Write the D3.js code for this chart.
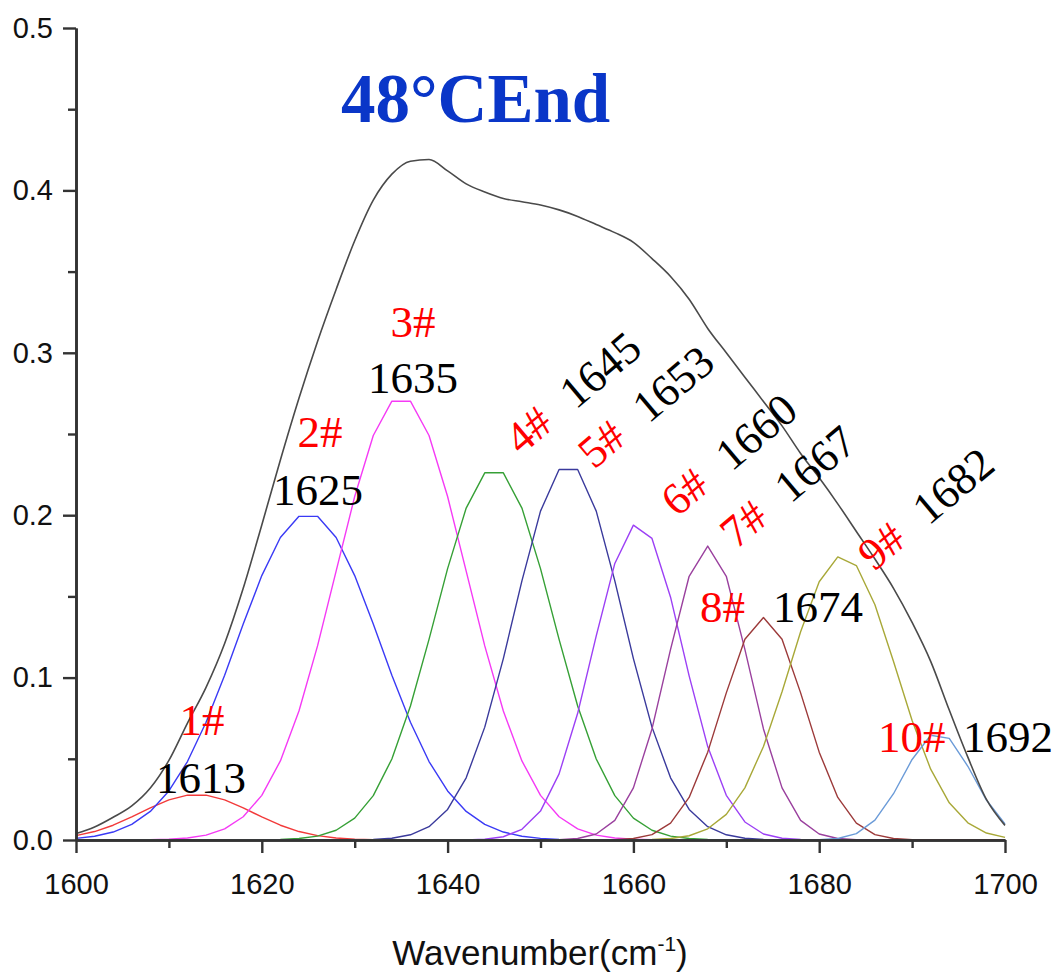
<!DOCTYPE html>
<html><head><meta charset="utf-8">
<script src="https://cdn.jsdelivr.net/npm/d3@7"></script>
<style>body{margin:0;background:#fff}</style>
</head><body><svg id="c" width="1058" height="975"></svg>
<script>
// ---- data ----
const wavenumbers = [1600,1602,1604,1606,1608,1610,1612,1614,1616,1618,1620,1622,1624,1626,1628,1630,1632,1634,1636,1638,1640,1642,1644,1646,1648,1650,1652,1654,1656,1658,1660,1662,1664,1666,1668,1670,1672,1674,1676,1678,1680,1682,1684,1686,1688,1690,1692,1694,1696,1698,1700];
const peak1 = [0.0027,0.0052,0.0091,0.0142,0.0198,0.0247,0.0276,0.0276,0.0247,0.0198,0.0142,0.0091,0.0052,0.0027,0.0012,0.0005,0.0002,0.0001,0,0,0,0,0,0,0,0,0,0,0,0,0,0,0,0,0,0,0,0,0,0,0,0,0,0,0,0,0,0,0,0,0];
const peak2 = [0.0010,0.0023,0.0049,0.0096,0.0176,0.0302,0.0483,0.0725,0.1015,0.1330,0.1628,0.1863,0.1993,0.1993,0.1863,0.1628,0.1330,0.1015,0.0725,0.0483,0.0302,0.0176,0.0096,0.0049,0.0023,0.0010,0.0004,0.0002,0,0,0,0,0,0,0,0,0,0,0,0,0,0,0,0,0,0,0,0,0,0,0];
const peak3 = [0,0,0,0.0001,0.0002,0.0005,0.0012,0.0030,0.0069,0.0143,0.0275,0.0487,0.0794,0.1195,0.1656,0.2115,0.2491,0.2702,0.2702,0.2491,0.2115,0.1656,0.1195,0.0794,0.0487,0.0275,0.0143,0.0069,0.0030,0.0012,0.0005,0.0002,0.0001,0,0,0,0,0,0,0,0,0,0,0,0,0,0,0,0,0,0];
const peak4 = [0,0,0,0,0,0,0,0,0,0,0.0001,0.0003,0.0009,0.0024,0.0060,0.0135,0.0273,0.0499,0.0825,0.1235,0.1671,0.2044,0.2261,0.2261,0.2044,0.1671,0.1235,0.0825,0.0499,0.0273,0.0135,0.0060,0.0024,0.0009,0.0003,0.0001,0,0,0,0,0,0,0,0,0,0,0,0,0,0,0];
const peak5 = [0,0,0,0,0,0,0,0,0,0,0,0,0,0,0,0.0001,0.0003,0.0011,0.0032,0.0082,0.0188,0.0383,0.0695,0.1117,0.1596,0.2025,0.2281,0.2281,0.2025,0.1596,0.1117,0.0695,0.0383,0.0188,0.0082,0.0032,0.0011,0.0003,0.0001,0,0,0,0,0,0,0,0,0,0,0,0];
const peak6 = [0,0,0,0,0,0,0,0,0,0,0,0,0,0,0,0,0,0,0,0,0,0.0001,0.0005,0.0020,0.0066,0.0178,0.0407,0.0780,0.1257,0.1703,0.1939,0.1857,0.1495,0.1011,0.0575,0.0275,0.0111,0.0037,0.0011,0.0003,0.0001,0,0,0,0,0,0,0,0,0,0];
const peak7 = [0,0,0,0,0,0,0,0,0,0,0,0,0,0,0,0,0,0,0,0,0,0,0,0,0,0,0.0002,0.0009,0.0037,0.0121,0.0321,0.0684,0.1174,0.1624,0.1810,0.1624,0.1174,0.0684,0.0321,0.0121,0.0037,0.0009,0.0002,0,0,0,0,0,0,0,0];
const peak8 = [0,0,0,0,0,0,0,0,0,0,0,0,0,0,0,0,0,0,0,0,0,0,0,0,0,0,0,0,0,0.0002,0.0009,0.0033,0.0104,0.0262,0.0541,0.0906,0.1236,0.1370,0.1236,0.0906,0.0541,0.0262,0.0104,0.0033,0.0009,0.0002,0,0,0,0,0];
const peak9 = [0,0,0,0,0,0,0,0,0,0,0,0,0,0,0,0,0,0,0,0,0,0,0,0,0,0,0,0,0,0,0.0001,0.0003,0.0009,0.0026,0.0069,0.0158,0.0321,0.0576,0.0913,0.1282,0.1590,0.1743,0.1690,0.1449,0.1099,0.0736,0.0436,0.0229,0.0106,0.0043,0.0016];
const peak10 = [0,0,0,0,0,0,0,0,0,0,0,0,0,0,0,0,0,0,0,0,0,0,0,0,0,0,0,0,0,0,0,0,0,0,0,0,0,0,0,0,0.0002,0.0009,0.0039,0.0122,0.0285,0.0496,0.0645,0.0626,0.0454,0.0246,0.0099];
const envelope = [0.004,0.008,0.014,0.021,0.032,0.049,0.072,0.094,0.121,0.155,0.194,0.234,0.272,0.307,0.339,0.369,0.394,0.410,0.418,0.419,0.412,0.404,0.399,0.395,0.393,0.391,0.388,0.384,0.379,0.374,0.368,0.358,0.347,0.333,0.315,0.300,0.285,0.270,0.255,0.238,0.223,0.207,0.190,0.173,0.155,0.134,0.110,0.080,0.051,0.025,0.009];
const peakIds = ["1#","2#","3#","4#","5#","6#","7#","8#","9#","10#"];
const peakCenters = ["1613","1625","1635","1645","1653","1660","1667","1674","1682","1692"];
const xTicks = [1600,1620,1640,1660,1680,1700];
const xMinorTicks = [1610,1630,1650,1670,1690];
const yTicks = [0,0.1,0.2,0.3,0.4,0.5];
const yMinorTicks = [0.05,0.15,0.25,0.35,0.45];
const yTickLabels = ["0.0","0.1","0.2","0.3","0.4","0.5"];
const titleText = "48°CEnd";
const xTitleMain = "Wavenumber(cm";
const xTitleSup = "-1";
const xTitleEnd = ")";

// ---- styles / layout ----
const peaks = [peak1,peak2,peak3,peak4,peak5,peak6,peak7,peak8,peak9,peak10];
const peakColors = ["#f23a3a","#3a3af5","#f53af5","#36a036","#3a3a9c","#9c40f5","#9a409e","#9c3a3a","#a8a838","#6b9bd8"];
const envColor = "#4a4a4a";
const labelLayout = [
  {mode:"c", x1:202, y1:735, x2:201, y2:793},
  {mode:"c", x1:320, y1:447, x2:318, y2:505},
  {mode:"c", x1:413, y1:337, x2:413, y2:393},
  {mode:"r", x:521, y:456},
  {mode:"r", x:594, y:470},
  {mode:"r", x:677, y:518},
  {mode:"r", x:736, y:550},
  {mode:"h", x1:700, x2:773, y:622},
  {mode:"r", x:874, y:572},
  {mode:"h", x1:878, x2:963, y:752}
];

const svg = d3.select("#c");
const x = d3.scaleLinear().domain([1600,1700]).range([76,1005]);
const y = d3.scaleLinear().domain([0,0.5]).range([840,28]);

const lineLin = d3.line().x((d,i)=>x(wavenumbers[i])).y(d=>y(d)).curve(d3.curveLinear);
const lineSmooth = d3.line().x((d,i)=>x(wavenumbers[i])).y(d=>y(d)).curve(d3.curveMonotoneX);

const g = svg.append("g");
peaks.forEach((p,k)=>{
  g.append("path").attr("d", lineLin(p)).attr("fill","none")
   .attr("stroke", peakColors[k]).attr("stroke-width",1.4).attr("stroke-linejoin","round");
});
g.append("path").attr("d", lineSmooth(envelope)).attr("fill","none")
 .attr("stroke", envColor).attr("stroke-width",1.6);

// axes
const axFont = "'Liberation Sans', Arial, sans-serif";
const yAx = svg.append("g").attr("transform","translate(76,0)")
  .call(d3.axisLeft(y).tickValues(yTicks).tickFormat((d,i)=>yTickLabels[i]).tickSize(13).tickSizeOuter(0).tickPadding(10));
const yAxMinor = svg.append("g").attr("transform","translate(76,0)")
  .call(d3.axisLeft(y).tickValues(yMinorTicks).tickFormat("").tickSize(8).tickSizeOuter(0));
const xAx = svg.append("g").attr("transform","translate(0,840)")
  .call(d3.axisBottom(x).tickValues(xTicks).tickFormat(d3.format("d")).tickSize(13).tickSizeOuter(0).tickPadding(20));
const xAxMinor = svg.append("g").attr("transform","translate(0,840)")
  .call(d3.axisBottom(x).tickValues(xMinorTicks).tickFormat("").tickSize(8).tickSizeOuter(0));
[yAx,yAxMinor,xAx,xAxMinor].forEach(a=>{
  a.selectAll("path.domain").attr("stroke","#333").attr("stroke-width",2.6);
  a.selectAll(".tick line").attr("stroke","#333").attr("stroke-width",2.4);
  a.selectAll("text").attr("font-family",axFont).attr("font-size",29).attr("fill","#111");
});
xAx.selectAll("text").attr("dy","0.71em");

// axis title
const xt = svg.append("text").attr("x",540).attr("y",965).attr("text-anchor","middle")
  .attr("font-family",axFont).attr("font-size",35).attr("fill","#111");
xt.append("tspan").text(xTitleMain);
xt.append("tspan").attr("font-size",21).attr("dy",-14).text(xTitleSup);
xt.append("tspan").attr("dy",14).text(xTitleEnd);

// title
svg.append("text").attr("x",341).attr("y",122).attr("font-family","'Liberation Serif','Times New Roman',serif")
  .attr("font-weight","bold").attr("font-size",69).attr("fill","#0a36c8").text(titleText);

// peak labels
const serif = "'Liberation Serif','Times New Roman',serif";
const fs = 45;
labelLayout.forEach((L,i)=>{
  if (L.mode==="c") {
    svg.append("text").attr("x",L.x1).attr("y",L.y1).attr("text-anchor","middle")
      .attr("font-family",serif).attr("font-size",fs).attr("fill","#ff0000").text(peakIds[i]);
    svg.append("text").attr("x",L.x2).attr("y",L.y2).attr("text-anchor","middle")
      .attr("font-family",serif).attr("font-size",fs).attr("fill","#000").text(peakCenters[i]);
  } else if (L.mode==="h") {
    svg.append("text").attr("x",L.x1).attr("y",L.y)
      .attr("font-family",serif).attr("font-size",fs).attr("fill","#ff0000").text(peakIds[i]);
    svg.append("text").attr("x",L.x2).attr("y",L.y)
      .attr("font-family",serif).attr("font-size",fs).attr("fill","#000").text(peakCenters[i]);
  } else {
    const t = svg.append("text").attr("transform",`translate(${L.x},${L.y}) rotate(-40)`)
      .attr("font-family",serif).attr("font-size",fs);
    t.append("tspan").attr("fill","#ff0000").text(peakIds[i]);
    t.append("tspan").attr("fill","#000").attr("dx",26).text(peakCenters[i]);
  }
});
</script>
</body></html>
